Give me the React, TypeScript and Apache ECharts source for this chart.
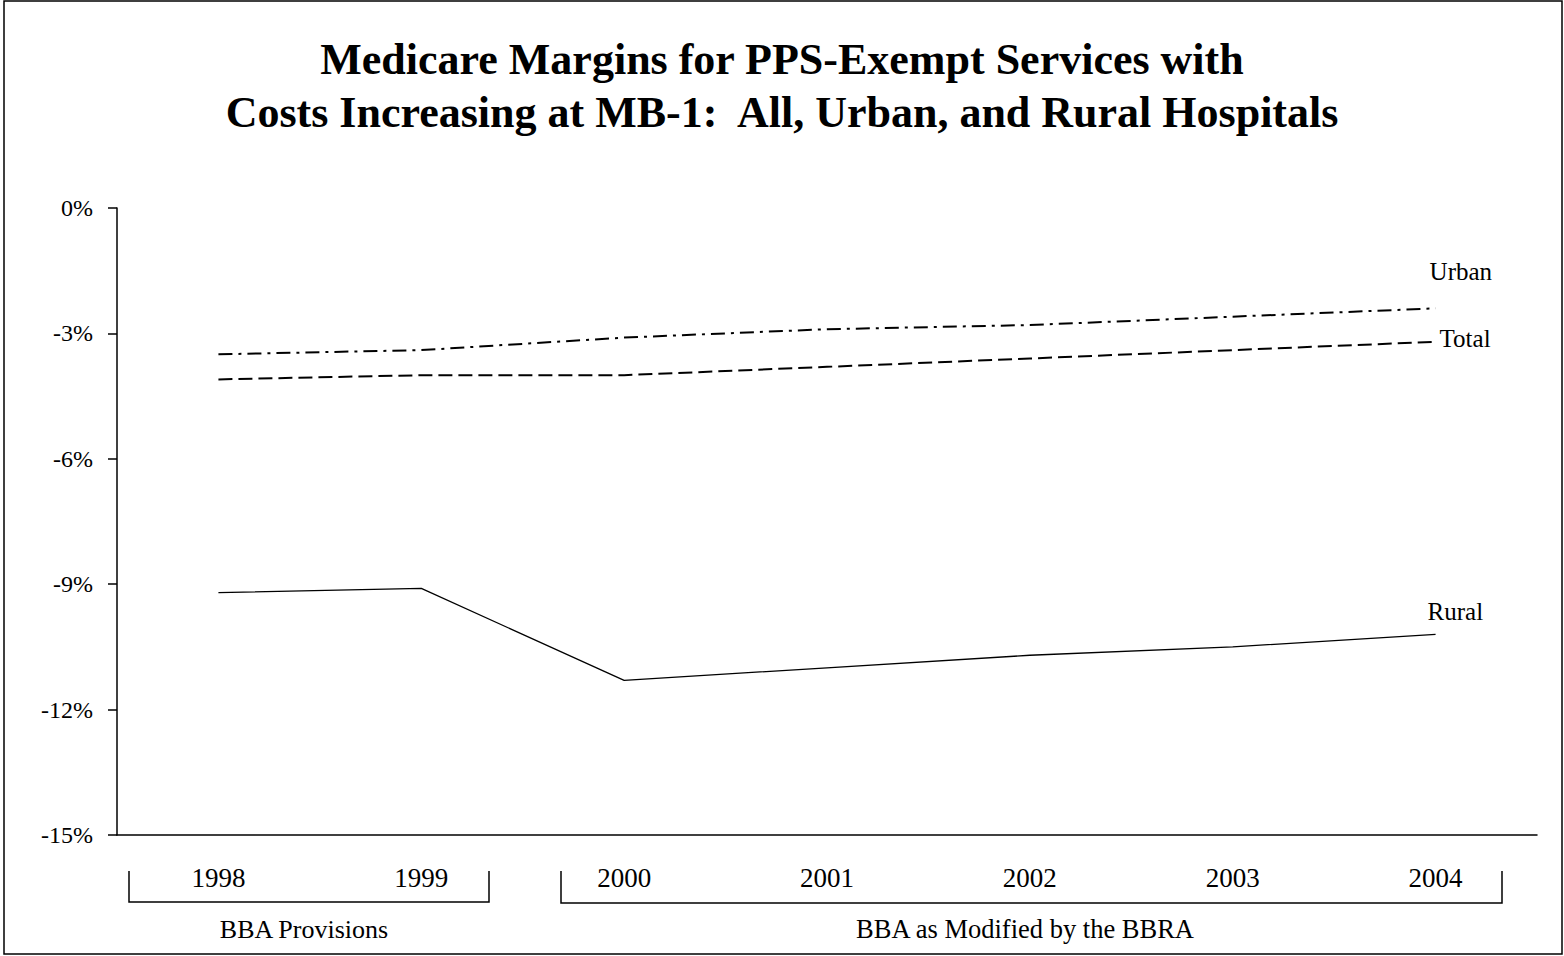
import React, { useEffect, useRef } from "react";
import * as echarts from "echarts";

const years = ["1998", "1999", "2000", "2001", "2002", "2003", "2004"];
const urban = [-3.5, -3.4, -3.1, -2.9, -2.8, -2.6, -2.4];
const total = [-4.1, -4.0, -4.0, -3.8, -3.6, -3.4, -3.2];
const rural = [-9.2, -9.1, -11.3, -11.0, -10.7, -10.5, -10.2];
const yTicks = { min: -15, max: 0, interval: 3 };
const titleLines = [
  "Medicare Margins for PPS-Exempt Services with",
  "Costs Increasing at MB-1:  All, Urban, and Rural Hospitals",
];
const periodLabels = ["BBA Provisions", "BBA as Modified by the BBRA"];

const FONT = "'Liberation Serif', 'Times New Roman', serif";

export default function App() {
  const ref = useRef<HTMLDivElement>(null);
  useEffect(() => {
    if (!ref.current) return;
    const chart = echarts.init(ref.current, undefined, { renderer: "svg" });
    const endLabel = (name: string, offset: number[]) => ({
      show: true,
      formatter: name,
      distance: 0,
      offset,
      color: "#000",
      fontFamily: FONT,
      fontSize: 25,
    });
    chart.setOption({
      animation: false,
      backgroundColor: "#fff",
      title: {
        text: titleLines.join("\n"),
        left: "center",
        top: 28,
        textStyle: {
          fontFamily: FONT,
          fontSize: 44,
          fontWeight: "bold",
          color: "#000",
          lineHeight: 53,
        },
      },
      grid: { left: 117, right: 27, top: 208, bottom: 121, containLabel: false },
      xAxis: {
        type: "category",
        data: years,
        boundaryGap: true,
        axisLine: { onZero: false, lineStyle: { color: "#000", width: 1.5 } },
        axisTick: { show: false },
        axisLabel: { color: "#000", fontFamily: FONT, fontSize: 27, margin: 29 },
        splitLine: { show: false },
      },
      yAxis: {
        type: "value",
        min: yTicks.min,
        max: yTicks.max,
        interval: yTicks.interval,
        axisLine: { show: true, lineStyle: { color: "#000", width: 1.5 } },
        axisTick: { show: true, length: 9, lineStyle: { color: "#000", width: 1.5 } },
        axisLabel: {
          color: "#000",
          fontFamily: FONT,
          fontSize: 24,
          margin: 24,
          formatter: (v: number) => `${v}%`,
        },
        splitLine: { show: false },
      },
      series: [
        {
          name: "Urban",
          type: "line",
          data: urban,
          symbol: "none",
          lineStyle: { color: "#000", width: 2, type: [14, 6, 3, 6] },
          endLabel: endLabel("Urban", [-6, -37]),
        },
        {
          name: "Total",
          type: "line",
          data: total,
          symbol: "none",
          lineStyle: { color: "#000", width: 2, type: [14, 6] },
          endLabel: endLabel("Total", [4, -3]),
        },
        {
          name: "Rural",
          type: "line",
          data: rural,
          symbol: "none",
          lineStyle: { color: "#000", width: 1.3, type: "solid" },
          endLabel: endLabel("Rural", [-8, -23]),
        },
      ],
      graphic: [
        {
          type: "rect",
          shape: { x: 4, y: 1, width: 1558, height: 953 },
          style: { fill: "none", stroke: "#000", lineWidth: 1.5 },
          silent: true,
        },
        {
          type: "polyline",
          shape: { points: [[129, 871], [129, 902], [489, 902], [489, 871]] },
          style: { fill: "none", stroke: "#000", lineWidth: 1.5 },
        },
        {
          type: "polyline",
          shape: { points: [[561, 871], [561, 903], [1502, 903], [1502, 871]] },
          style: { fill: "none", stroke: "#000", lineWidth: 1.5 },
        },
        {
          type: "text",
          x: 304,
          y: 929,
          style: {
            text: periodLabels[0],
            fill: "#000",
            font: `26px ${FONT}`,
            align: "center",
            verticalAlign: "middle",
          },
        },
        {
          type: "text",
          x: 1025,
          y: 929,
          style: {
            text: periodLabels[1],
            fill: "#000",
            font: `26.5px ${FONT}`,
            align: "center",
            verticalAlign: "middle",
          },
        },
      ],
    });
    return () => chart.dispose();
  }, []);
  return (
    <div
      ref={ref}
      style={{ position: "fixed", left: 0, top: 0, width: 1564, height: 956 }}
    />
  );
}
